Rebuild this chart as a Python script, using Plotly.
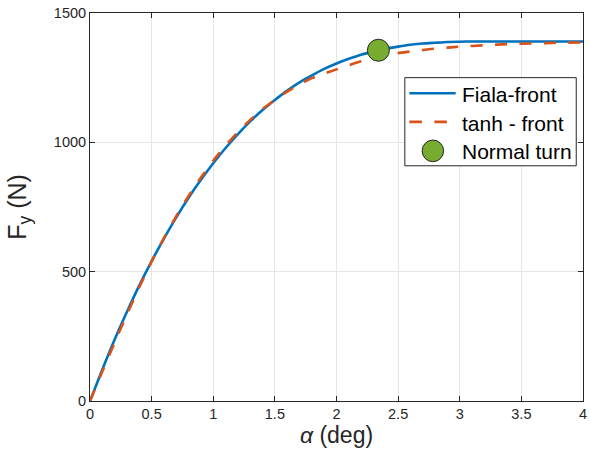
import plotly.graph_objects as go

alpha_deg = [0, 0.1, 0.2, 0.3, 0.4, 0.5, 0.6, 0.7, 0.8, 0.9, 1.0, 1.1, 1.2, 1.3, 1.4, 1.5,
             1.6, 1.7, 1.8, 1.9, 2.0, 2.1, 2.2, 2.3, 2.4, 2.5, 2.6, 2.7, 2.8, 2.9, 3.0,
             3.1, 3.2, 3.3, 3.4, 3.6, 3.8, 4.0]
fiala_front = [0, 122, 238, 345, 447, 541, 628, 710, 786, 855, 919, 978, 1032, 1081, 1125, 1164,
               1200, 1232, 1259, 1284, 1305, 1323, 1339, 1351, 1362, 1370, 1377, 1382, 1385, 1388, 1389,
               1390, 1390, 1390, 1390, 1390, 1390, 1390]
tanh_alpha = [0, 0.1, 0.2, 0.3, 0.4, 0.5, 0.6, 0.7, 0.8, 0.9, 1.0, 1.1, 1.2, 1.3, 1.4, 1.5,
              1.6, 1.7, 1.8, 1.9, 2.0, 2.1, 2.2, 2.3, 2.4, 2.5, 2.6, 2.7, 2.8, 2.9, 3.0,
              3.2, 3.4, 3.6, 3.8, 4.0]
tanh_front = [0, 114, 226, 335, 440, 539, 630, 715, 793, 864, 929, 987, 1040, 1087, 1129, 1164,
              1196, 1224, 1248, 1266, 1282, 1298, 1313, 1325, 1336, 1345, 1351, 1357, 1362, 1366, 1370,
              1375, 1380, 1382, 1385, 1386]
normal_turn_alpha = [2.34]
normal_turn_fy = [1356]
legend_labels = ['Fiala-front', 'tanh - front', 'Normal turn']

AX = '#262626'
BLUE = '#0072BD'
ORANGE = '#D95319'
GREEN = '#77AC30'
FONT = 'Liberation Sans, Arial, Helvetica, sans-serif'

fig = go.Figure()
fig.add_trace(go.Scatter(x=alpha_deg, y=fiala_front, mode='lines', name=legend_labels[0],
                         line=dict(color=BLUE, width=2.6, shape='spline', smoothing=0.6)))
fig.add_trace(go.Scatter(x=tanh_alpha, y=tanh_front, mode='lines', name=legend_labels[1],
                         line=dict(color=ORANGE, width=2.6, dash='12px,12.5px', shape='spline', smoothing=0.6)))
fig.add_trace(go.Scatter(x=normal_turn_alpha, y=normal_turn_fy, mode='markers', name=legend_labels[2],
                         marker=dict(color=GREEN, size=22, line=dict(color=AX, width=1))))

axis_common = dict(showline=True, linecolor=AX, linewidth=1, mirror='ticks',
                   ticks='inside', ticklen=5, tickcolor=AX, tickwidth=1,
                   showgrid=True, gridcolor='#e6e6e6', gridwidth=1, zeroline=False,
                   ticklabeloverflow='allow',
                   tickfont=dict(family=FONT, size=14.5, color=AX))

# MATLAB-style boxed legend, drawn in plot-domain (paper) coordinates
shapes = [
    dict(type='rect', xref='paper', yref='paper', x0=0.6386, x1=0.9863, y0=0.6062, y1=0.8334,
         fillcolor='white', line=dict(color=AX, width=1), layer='above'),
    dict(type='line', xref='paper', yref='paper', x0=0.6478, x1=0.7417, y0=0.7931, y1=0.7931,
         line=dict(color=BLUE, width=2.6), layer='above'),
    dict(type='line', xref='paper', yref='paper', x0=0.6478, x1=0.7417, y0=0.7193, y1=0.7193,
         line=dict(color=ORANGE, width=2.6, dash='12.5px,12.5px'), layer='above'),
    dict(type='circle', xref='paper', yref='paper', x0=0.6955 - 0.0218, x1=0.6955 + 0.0218,
         y0=0.6447 - 0.0279, y1=0.6447 + 0.0279,
         fillcolor=GREEN, line=dict(color=AX, width=1), layer='above'),
]
annotations = [
    dict(xref='paper', yref='paper', x=0.7497, y=yy, text=t, showarrow=False,
         xanchor='left', yanchor='middle', font=dict(family=FONT, size=21, color='black'))
    for t, yy in zip(legend_labels, [0.7905, 0.7159, 0.6440])
]

fig.update_layout(
    width=590, height=462,
    margin=dict(l=90, r=2.5, t=12.5, b=60.5),
    paper_bgcolor='white', plot_bgcolor='white',
    font=dict(family=FONT, color=AX),
    xaxis=dict(range=[0, 4], tickvals=[0, 0.5, 1, 1.5, 2, 2.5, 3, 3.5, 4],
               ticktext=['0', '0.5', '1', '1.5', '2', '2.5', '3', '3.5', '4'],
               title=dict(text='<i>α</i> (deg)', font=dict(family=FONT, size=23, color=AX), standoff=4),
               **axis_common),
    yaxis=dict(range=[0, 1500], tickvals=[0, 500, 1000, 1500],
               title=dict(text='F<sub>y</sub> (N)', font=dict(family=FONT, size=25, color=AX), standoff=20),
               **axis_common),
    shapes=shapes,
    annotations=annotations,
    showlegend=False,
)

fig.write_html("out.html",
               config={'displayModeBar': False},
               post_script="document.body.style.margin='0px';document.documentElement.style.overflow='hidden';")
